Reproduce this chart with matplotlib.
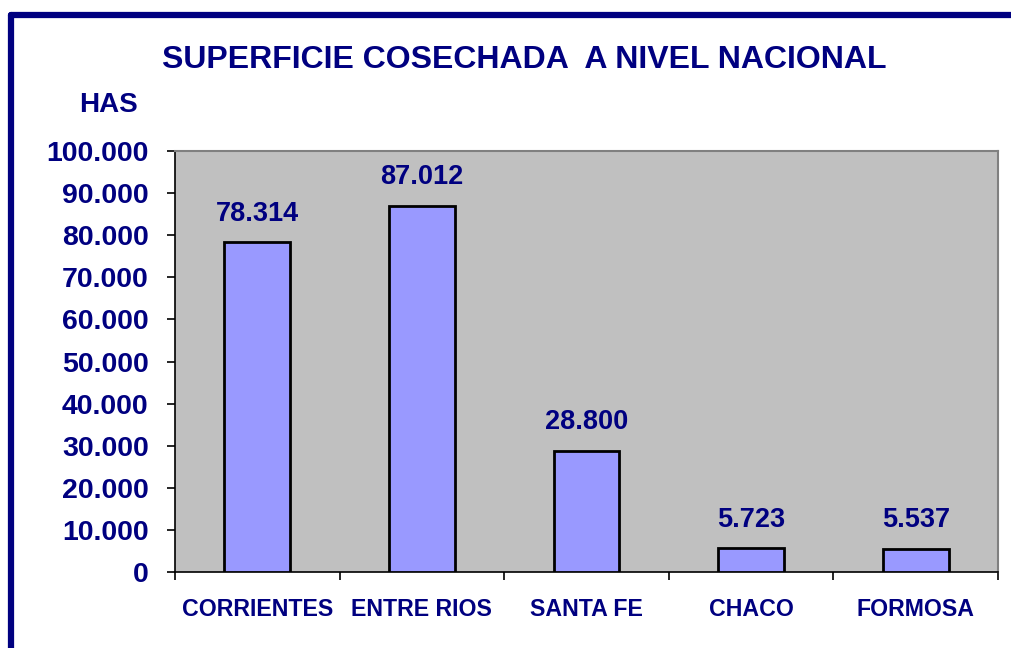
import numpy as np
import matplotlib.pyplot as plt
from matplotlib.lines import Line2D
from matplotlib.ticker import FuncFormatter, FixedLocator

plt.rcParams['font.family'] = ['Liberation Sans', 'DejaVu Sans']

# data
provincias = ['CORRIENTES', 'ENTRE RIOS', 'SANTA FE', 'CHACO', 'FORMOSA']
hectareas = [78314, 87012, 28800, 5723, 5537]
y_ticks = [0, 10000, 20000, 30000, 40000, 50000, 60000, 70000, 80000, 90000, 100000]

navy = '#000080'

def miles(v, pos=None):
    return f'{int(v):,}'.replace(',', '.')

fig = plt.figure(figsize=(10.12, 6.48), dpi=100)
ax = fig.add_axes([175/1012, 1 - 572/648, 823/1012, 421/648])

x = np.arange(len(provincias))
ax.bar(x, hectareas, width=0.4, color='#9999FF', edgecolor='black', linewidth=2, zorder=3)
ax.set_facecolor('#C0C0C0')
ax.set_xlim(-0.5, len(provincias) - 0.5)
ax.set_ylim(0, 100000)

for xi, v in zip(x, hectareas):
    ax.annotate(miles(v), (xi, v), xytext=(0, 11), textcoords='offset points',
                ha='center', va='bottom', fontsize=19.5, fontweight='bold', color=navy)

ax.set_yticks(y_ticks)
ax.yaxis.set_major_formatter(FuncFormatter(miles))
ax.tick_params(axis='y', direction='out', length=6, width=1.2, pad=13,
               labelsize=20.5, labelcolor=navy)
for t in ax.get_yticklabels():
    t.set_fontweight('bold')

ax.set_xticks(x)
ax.set_xticklabels(provincias, fontsize=16.7, fontweight='bold', color=navy)
ax.tick_params(axis='x', which='major', length=0, pad=19)
ax.xaxis.set_minor_locator(FixedLocator(np.arange(-0.5, len(provincias), 1.0)))
ax.tick_params(axis='x', which='minor', direction='out', length=6, width=1.2)

for s in ['top', 'right']:
    ax.spines[s].set_color('#808080')
    ax.spines[s].set_linewidth(1.5)
for s in ['left', 'bottom']:
    ax.spines[s].set_color('black')
    ax.spines[s].set_linewidth(1.2)

fig.text(524/1012, 1 - 60/648, 'SUPERFICIE COSECHADA  A NIVEL NACIONAL',
         ha='center', va='center', fontsize=23, fontweight='bold', color=navy)
fig.text(109/1012, 1 - 105/648, 'HAS', ha='center', va='center',
         fontsize=20, fontweight='bold', color=navy)

# marco azul
fig.add_artist(Line2D([11/1012, 1.01], [1 - 15/648, 1 - 15/648], transform=fig.transFigure,
                      color=navy, linewidth=4.5, solid_capstyle='round'))
fig.add_artist(Line2D([11/1012, 11/1012], [1 - 15/648, -0.01], transform=fig.transFigure,
                      color=navy, linewidth=4.5, solid_capstyle='round'))

fig.savefig('out.png', dpi=100)
